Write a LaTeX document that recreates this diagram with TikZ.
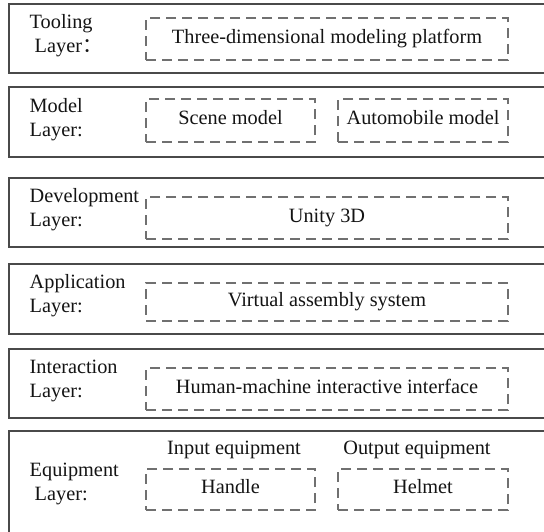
\documentclass[tikz,border=0pt]{standalone}
\usepackage{fontspec}
\setmainfont{Liberation Serif}
\newfontfamily\cjkfont{Noto Sans CJK SC}
\definecolor{outl}{HTML}{4A4A4A}
\definecolor{dsh}{HTML}{707070}
\definecolor{txt}{HTML}{141414}
\begin{document}
\begin{tikzpicture}[x=1pt,y=-1pt,
  layerbox/.style={draw=outl, line width=1.3pt},
  dbox/.style={draw=dsh, line width=1.3pt, dash pattern=on 10pt off 6pt,
    inner sep=0pt, text height=13pt, text depth=5pt,
    font=\fontsize{20.3}{24}\selectfont, text=txt},
  lbl/.style={align=left, anchor=west, inner sep=0pt,
    font=\fontsize{20.3}{24}\selectfont, text=txt},
  sublbl/.style={anchor=base, inner sep=0pt,
    font=\fontsize{20.3}{24}\selectfont, text=txt}]
\useasboundingbox (0,0) rectangle (544,531);
\clip (0,0) rectangle (544,531);
\fill[white] (0,0) rectangle (544,531);

% outer layer boxes
\draw[layerbox] (9,4)   rectangle (600,73);
\draw[layerbox] (9,87)  rectangle (600,157);
\draw[layerbox] (9,178) rectangle (600,247);
\draw[layerbox] (9,264) rectangle (600,334);
\draw[layerbox] (9,349) rectangle (600,418);
\draw[layerbox] (9,431) rectangle (600,600);

% layer labels
\node[lbl] (ltool) at (29.5,36) {Tooling\\\hspace{5pt}Layer{\cjkfont ：}};
\node[lbl] (lmodel) at (29.5,120) {Model\\Layer:};
\node[lbl] (ldev) at (29.5,210) {Development\\Layer:};
\node[lbl] (lapp) at (29.5,296) {Application\\Layer:};
\node[lbl] (lint) at (29.5,381) {Interaction\\Layer:};
\node[lbl] (lequ) at (29.5,484) {Equipment\\\hspace{5pt}Layer:};

% dashed content boxes
\node[dbox, minimum width=362pt, minimum height=42pt] (tool) at (327,39) {Three-dimensional modeling platform};
\node[dbox, minimum width=169pt, minimum height=43pt] (scene) at (230.5,120.5) {Scene model};
\node[dbox, minimum width=170pt, minimum height=43pt] (auto) at (423,120.5) {Automobile model};
\node[dbox, minimum width=362pt, minimum height=42pt] (unity) at (327,218) {Unity 3D};
\node[dbox, minimum width=362pt, minimum height=38pt] (vas) at (327,302) {Virtual assembly system};
\node[dbox, minimum width=362pt, minimum height=42pt] (hmi) at (327,389) {Human-machine interactive interface};
\node[dbox, minimum width=169pt, minimum height=41pt] (handle) at (230.5,489.5) {Handle};
\node[dbox, minimum width=170pt, minimum height=41pt] (helmet) at (423,489.5) {Helmet};

% equipment captions
\node[sublbl] (inp) at (234,454) {Input equipment};
\node[sublbl] (outp) at (417,454) {Output equipment};
\end{tikzpicture}
\end{document}
